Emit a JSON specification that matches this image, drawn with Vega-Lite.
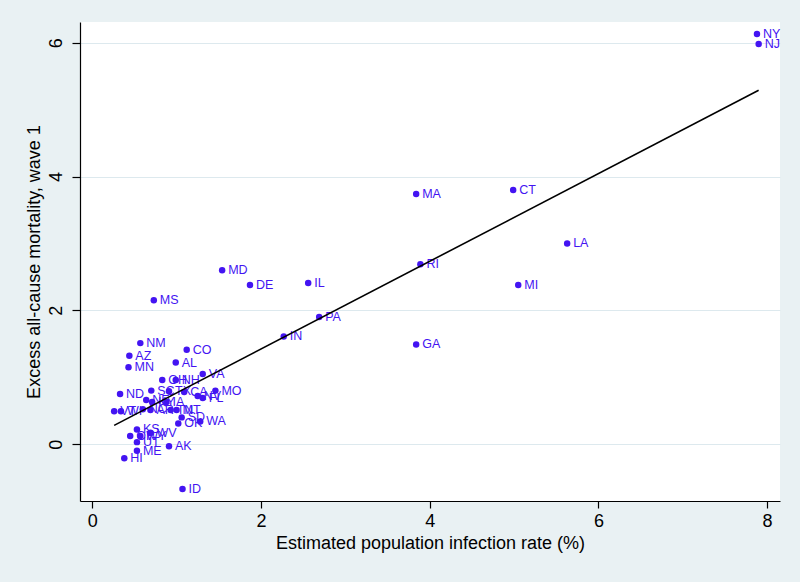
{
  "$schema": "https://vega.github.io/schema/vega-lite/v6.json",
  "width": 700,
  "height": 479,
  "autosize": {"type": "none"},
  "padding": {"left": 80, "top": 22, "right": 20, "bottom": 81},
  "background": "#e9f1f3",
  "view": {"fill": "white", "stroke": null},
  "config": {
    "font": "Liberation Sans",
    "axis": {
      "domainColor": "#000000",
      "tickColor": "#000000",
      "labelColor": "#000000",
      "titleColor": "#000000",
      "labelFontSize": 18,
      "titleFontSize": 18,
      "titleFontWeight": "normal",
      "labelFont": "Liberation Sans",
      "titleFont": "Liberation Sans",
      "domainWidth": 1.2,
      "tickWidth": 1.2
    }
  },
  "datasets": {
    "states": [
      {"state": "NY", "infection": 7.88, "excess": 6.13},
      {"state": "NJ", "infection": 7.90, "excess": 5.98},
      {"state": "MA", "infection": 3.84, "excess": 3.74},
      {"state": "CT", "infection": 4.99, "excess": 3.80},
      {"state": "LA", "infection": 5.63, "excess": 3.00},
      {"state": "RI", "infection": 3.89, "excess": 2.69},
      {"state": "MI", "infection": 5.05, "excess": 2.38},
      {"state": "GA", "infection": 3.84, "excess": 1.49},
      {"state": "MD", "infection": 1.54, "excess": 2.60},
      {"state": "DE", "infection": 1.87, "excess": 2.38},
      {"state": "IL", "infection": 2.56, "excess": 2.41},
      {"state": "PA", "infection": 2.69, "excess": 1.90},
      {"state": "IN", "infection": 2.27, "excess": 1.61},
      {"state": "MS", "infection": 0.73, "excess": 2.15},
      {"state": "NM", "infection": 0.57, "excess": 1.51},
      {"state": "CO", "infection": 1.12, "excess": 1.41},
      {"state": "AZ", "infection": 0.44, "excess": 1.32},
      {"state": "AL", "infection": 0.99, "excess": 1.22},
      {"state": "MN", "infection": 0.43, "excess": 1.15},
      {"state": "VA", "infection": 1.31, "excess": 1.05},
      {"state": "OH", "infection": 0.83, "excess": 0.96},
      {"state": "NH", "infection": 0.99, "excess": 0.96},
      {"state": "ND", "infection": 0.33, "excess": 0.75},
      {"state": "SC", "infection": 0.70, "excess": 0.80},
      {"state": "TX", "infection": 0.91, "excess": 0.79},
      {"state": "CA", "infection": 1.09, "excess": 0.78},
      {"state": "NV", "infection": 1.25, "excess": 0.72},
      {"state": "FL", "infection": 1.31, "excess": 0.69},
      {"state": "MO", "infection": 1.46, "excess": 0.80},
      {"state": "NE", "infection": 0.64, "excess": 0.66},
      {"state": "KY", "infection": 0.71, "excess": 0.63},
      {"state": "IA", "infection": 0.88, "excess": 0.63},
      {"state": "VT", "infection": 0.26, "excess": 0.49},
      {"state": "WI", "infection": 0.34, "excess": 0.49},
      {"state": "NC", "infection": 0.60, "excess": 0.52},
      {"state": "AR", "infection": 0.69, "excess": 0.51},
      {"state": "TN", "infection": 0.93, "excess": 0.51},
      {"state": "MT", "infection": 1.00, "excess": 0.51},
      {"state": "SD", "infection": 1.06, "excess": 0.40},
      {"state": "WA", "infection": 1.28, "excess": 0.34},
      {"state": "OK", "infection": 1.02, "excess": 0.31},
      {"state": "KS", "infection": 0.53, "excess": 0.22},
      {"state": "OR", "infection": 0.45, "excess": 0.12},
      {"state": "WY", "infection": 0.57, "excess": 0.12},
      {"state": "WV", "infection": 0.69, "excess": 0.17},
      {"state": "UT", "infection": 0.53, "excess": 0.03},
      {"state": "ME", "infection": 0.53, "excess": -0.10},
      {"state": "AK", "infection": 0.91, "excess": -0.03},
      {"state": "HI", "infection": 0.38, "excess": -0.21},
      {"state": "ID", "infection": 1.07, "excess": -0.67}
    ],
    "fit": [
      {"infection": 0.26, "excess": 0.28},
      {"infection": 7.90, "excess": 5.29}
    ]
  },
  "encoding": {
    "x": {
      "field": "infection",
      "type": "quantitative",
      "scale": {"domain": [-0.145, 8.153], "nice": false, "zero": false},
      "axis": {
        "title": "Estimated population infection rate (%)",
        "values": [0, 2, 4, 6, 8],
        "grid": false,
        "tickSize": 7,
        "labelPadding": 4,
        "titlePadding": 4
      }
    },
    "y": {
      "field": "excess",
      "type": "quantitative",
      "scale": {"domain": [-0.85, 6.31], "nice": false, "zero": false},
      "axis": {
        "title": "Excess all-cause mortality, wave 1",
        "values": [0, 2, 4, 6],
        "grid": true,
        "gridColor": "#dde9ee",
        "gridWidth": 1.2,
        "tickSize": 8,
        "labelAngle": -90,
        "labelAlign": "center",
        "labelBaseline": "bottom",
        "labelPadding": 7,
        "titlePadding": 4
      }
    }
  },
  "layer": [
    {
      "data": {"name": "states"},
      "mark": {"type": "circle", "size": 42, "opacity": 1, "color": "#4314f2"}
    },
    {
      "data": {"name": "states"},
      "mark": {
        "type": "text",
        "align": "left",
        "baseline": "middle",
        "dx": 6,
        "fontSize": 12.5,
        "font": "Liberation Sans",
        "color": "#4314f2"
      },
      "encoding": {"text": {"field": "state"}}
    },
    {
      "data": {"name": "fit"},
      "mark": {"type": "line", "color": "#000000", "strokeWidth": 1.6},
      "encoding": {}
    }
  ]
}
